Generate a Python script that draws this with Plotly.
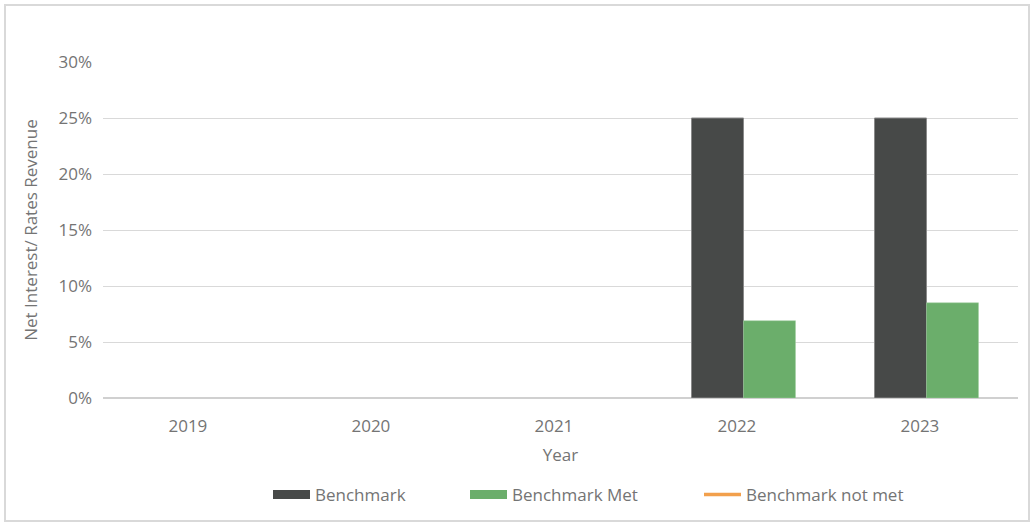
import plotly.graph_objects as go

years = ["2019", "2020", "2021", "2022", "2023"]
year_labels = ["2019", "2020", "2021", "2022", "2023"]
benchmark = [None, None, None, 0.25, 0.25]
benchmark_met = [None, None, None, 0.069, 0.085]
benchmark_not_met = [None, None, None, None, None]
y_ticks = [0, 0.05, 0.10, 0.15, 0.20, 0.25, 0.30]
y_tick_labels = ["0%", "5%", "10%", "15%", "20%", "25%", "30%"]

C_BENCH = "#474948"
C_MET = "#6BAE6B"
C_NOT = "#F2A04C"
FONT = "Open Sans"
TXT = "#747474"
FS = 17

fig = go.Figure()
fig.add_trace(go.Bar(x=years, y=benchmark, name="Benchmark", marker=dict(color=C_BENCH, line=dict(color="#8a8a8a", width=1)), showlegend=False))
fig.add_trace(go.Bar(x=years, y=benchmark_met, name="Benchmark Met", marker=dict(color=C_MET, line=dict(color="#9fcc9f", width=0.5)), showlegend=False))
fig.add_trace(go.Scatter(x=years, y=benchmark_not_met, name="Benchmark not met", mode="lines", line=dict(color=C_NOT, width=3), showlegend=False))

# legend entries
fig.add_trace(go.Scatter(x=years, y=[None]*5, name="Benchmark", mode="lines", line=dict(color=C_BENCH, width=9), legend="legend"))
fig.add_trace(go.Scatter(x=years, y=[None]*5, name="Benchmark Met", mode="lines", line=dict(color=C_MET, width=9), legend="legend2"))
fig.add_trace(go.Scatter(x=years, y=benchmark_not_met, name="Benchmark not met", mode="lines", line=dict(color=C_NOT, width=3.5), legend="legend3"))

W, H = 1036, 524
L, R, T, B = 103, 18, 62, 126
pw, ph = W - L - R, H - T - B

def px_x(p):
    return (p - L) / pw

def px_y(p):
    return (H - B - p) / ph

leg_common = dict(orientation="h", yanchor="middle", xanchor="left", itemwidth=37,
                  font=dict(family=FONT, size=FS, color=TXT), bgcolor="rgba(0,0,0,0)")

fig.update_layout(
    width=W, height=H,
    margin=dict(l=L, r=R, t=T, b=B, autoexpand=False),
    paper_bgcolor="white", plot_bgcolor="white",
    font=dict(family=FONT, size=FS, color=TXT),
    barmode="group", bargap=0.432, bargroupgap=0,
    xaxis=dict(title=dict(text="Year", font=dict(size=FS, color=TXT), standoff=13), showgrid=False, ticks="", showline=False,
               tickmode="array", tickvals=years, ticktext=[t + "\u00a0\u00a0\u00a0" for t in year_labels],
               tickfont=dict(size=FS, color=TXT), ticklabelstandoff=16, automargin=False),
    yaxis=dict(title=dict(text="Net Interest/ Rates Revenue", font=dict(size=FS, color=TXT), standoff=16), range=[0, 0.3],
               tickvals=y_ticks, ticktext=y_tick_labels, showgrid=True, gridcolor="#d9d9d9", gridwidth=1,
               zeroline=True, zerolinecolor="#d0d0d0", zerolinewidth=2, ticks="", ticklen=0,
               tickfont=dict(size=FS, color=TXT), ticklabelstandoff=10, automargin=False),
    legend=dict(x=px_x(268), y=px_y(495), **leg_common),
    legend2=dict(x=px_x(465), y=px_y(495), **leg_common),
    legend3=dict(x=px_x(699), y=px_y(495), **leg_common),
    shapes=[dict(type="rect", xref="paper", yref="paper", x0=px_x(5), x1=px_x(1029), y0=px_y(521), y1=px_y(5),
                 line=dict(color="#d9d9d9", width=2), fillcolor="rgba(0,0,0,0)", layer="below")],
)

fig.write_html("out.html", config={"displayModeBar": False}, post_script="document.body.style.margin='0px';")
